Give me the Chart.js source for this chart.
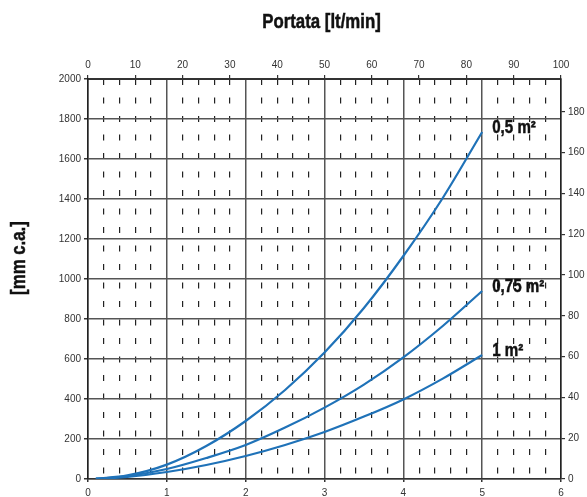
<!DOCTYPE html>
<html>
<head>
<meta charset="utf-8">
<style>
  html, body { margin: 0; padding: 0; background: #fff; }
</style>
<script src="https://cdn.jsdelivr.net/npm/chart.js@4.4.1/dist/chart.umd.min.js"></script>
</head>
<body>
<canvas id="chart" width="587" height="497"></canvas>
<script>
// flow in m3/h (bottom axis), pressure drop in mm c.a.
const flow = [0.1, 0.5, 1, 1.5, 2, 2.5, 3, 3.5, 4, 4.5, 5];
const drop05 = [2, 18, 72, 165, 290, 445, 632, 855, 1115, 1405, 1735];
const drop075 = [1, 14, 50, 105, 170, 257, 357, 472, 608, 765, 940];
const drop1 = [1, 10, 35, 70, 115, 170, 235, 312, 398, 502, 620];
const seriesNames = ["0,5 m²", "0,75 m²", "1 m²"];

const m3hLabels = [0, 1, 2, 3, 4, 5, 6];
const lminLabels = [0, 10, 20, 30, 40, 50, 60, 70, 80, 90, 100];
const mmLabels = [0, 200, 400, 600, 800, 1000, 1200, 1400, 1600, 1800, 2000];
const mbarLabels = [0, 20, 40, 60, 80, 100, 120, 140, 160, 180];

const xTitle = "Portata [lt/min]";
const yTitle = "[mm c.a.]";

const tickFont = { family: "'Liberation Sans', Arial, sans-serif", size: 10 };
const boldFamily = "'Liberation Sans', Arial, sans-serif";
const narrow = 0.84; // squeeze bold text to look like a condensed face
const lineColor = "#1f72b8";

const isMajor = v => m3hLabels.some(m => Math.abs(m - v) < 1e-6);
const plain = v => String(v);

function points(ys) {
  return flow.map((x, i) => ({ x, y: ys[i] }));
}

function fixedTicks(list) {
  return scale => {
    scale.ticks = list.map(v => ({ value: v }));
  };
}

function narrowText(ctx, text, x, y, align) {
  ctx.save();
  ctx.translate(x, y);
  ctx.scale(narrow, 1);
  ctx.textAlign = align;
  ctx.fillText(text, 0, 0);
  ctx.strokeText(text, 0, 0);
  ctx.restore();
}

const textPlugin = {
  id: "texts",
  afterDatasetsDraw(chart) {
    const { ctx, chartArea } = chart;
    ctx.save();
    ctx.fillStyle = "#111";
    ctx.strokeStyle = "#111";
    ctx.lineWidth = 0.5;
    ctx.textBaseline = "middle";

    ctx.font = "bold 20px " + boldFamily;
    narrowText(ctx, xTitle, (chartArea.left + chartArea.right) / 2 - 3, 22, "center");

    ctx.save();
    ctx.translate(19, 258);
    ctx.rotate(-Math.PI / 2);
    narrowText(ctx, yTitle, 0, 0, "center");
    ctx.restore();

    ctx.font = "bold 18px " + boldFamily;
    chart.data.datasets.forEach((ds, i) => {
      const pts = chart.getDatasetMeta(i).data;
      const last = pts[pts.length - 1];
      narrowText(ctx, seriesNames[i], last.x + 10, last.y - 4, "left");
    });
    ctx.restore();
  }
};

const lineSet = (ys, i) => ({
  label: seriesNames[i],
  data: points(ys),
  borderColor: lineColor,
  borderWidth: 2.2,
  pointRadius: 0,
  cubicInterpolationMode: "monotone",
  fill: false
});

new Chart(document.getElementById("chart"), {
  type: "line",
  data: {
    datasets: [lineSet(drop05, 0), lineSet(drop075, 1), lineSet(drop1, 2)]
  },
  options: {
    responsive: false,
    animation: false,
    layout: { padding: 0 },
    plugins: {
      legend: { display: false },
      tooltip: { enabled: false }
    },
    scales: {
      x: {
        type: "linear",
        position: "bottom",
        min: 0,
        max: 6,
        afterFit: s => { s.height = 18; },
        ticks: {
          stepSize: 0.2,
          autoSkip: false,
          maxRotation: 0,
          padding: 5,
          font: tickFont,
          color: "#333",
          callback: v => isMajor(v) ? String(Math.round(v)) : ""
        },
        grid: {
          color: c => isMajor(c.tick.value) ? "#555" : "#222",
          lineWidth: c => isMajor(c.tick.value) ? 1.5 : 1.2,
          tickLength: 3,
          tickColor: c => isMajor(c.tick.value) ? "#333" : "rgba(0,0,0,0)"
        },
        border: {
          color: "#333",
          width: 1.5,
          dash: c => (c.tick && !isMajor(c.tick.value)) ? [6, 12.5] : []
        }
      },
      x2: {
        type: "linear",
        position: "top",
        min: 0,
        max: 100,
        afterFit: s => { s.height = 79; },
        afterBuildTicks: fixedTicks(lminLabels),
        ticks: { autoSkip: false, maxRotation: 0, padding: 4, font: tickFont, color: "#333", callback: plain },
        grid: { drawOnChartArea: false, tickLength: 4, color: "#333", lineWidth: 1.2 },
        border: { color: "#333", width: 2 }
      },
      y: {
        type: "linear",
        position: "left",
        min: 0,
        max: 2000,
        afterFit: s => { s.width = 88; },
        afterBuildTicks: fixedTicks(mmLabels),
        ticks: { autoSkip: false, padding: 3, font: tickFont, color: "#333", callback: plain },
        grid: { color: "#555", lineWidth: 1.5, tickLength: 4, tickColor: "#333" },
        border: { color: "#222", width: 1.5 }
      },
      y2: {
        type: "linear",
        position: "right",
        min: 0,
        max: 196.13,
        afterFit: s => { s.width = 26; },
        afterBuildTicks: fixedTicks(mbarLabels),
        ticks: { autoSkip: false, padding: 3, font: tickFont, color: "#333", callback: plain },
        grid: { drawOnChartArea: false, tickLength: 4, color: "#333", lineWidth: 1.2 },
        border: { color: "#222", width: 1.5 }
      }
    }
  },
  plugins: [textPlugin]
});
</script>
</body>
</html>
